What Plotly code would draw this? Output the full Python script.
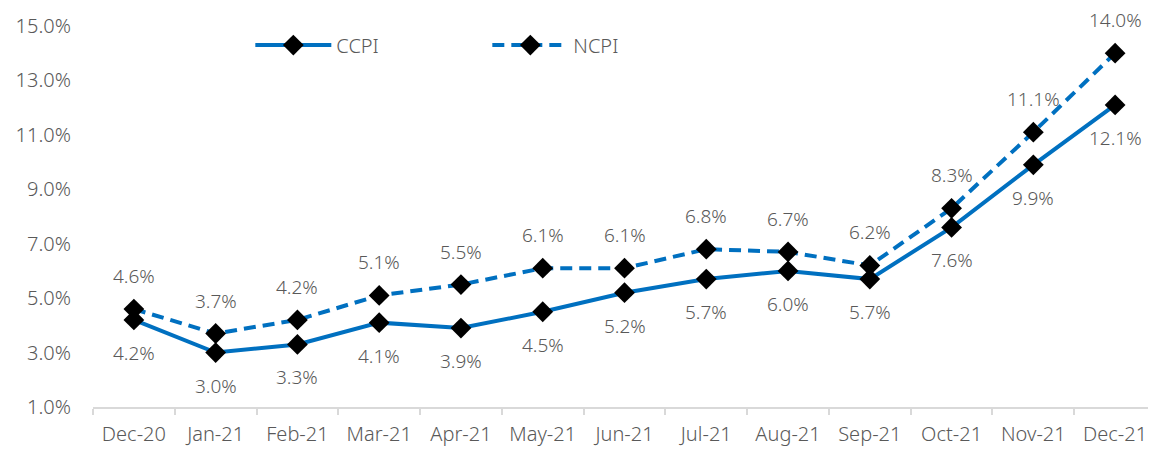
import plotly.graph_objects as go

months = ["Dec-20", "Jan-21", "Feb-21", "Mar-21", "Apr-21", "May-21", "Jun-21",
          "Jul-21", "Aug-21", "Sep-21", "Oct-21", "Nov-21", "Dec-21"]
ccpi = [4.2, 3.0, 3.3, 4.1, 3.9, 4.5, 5.2, 5.7, 6.0, 5.7, 7.6, 9.9, 12.1]
ncpi = [4.6, 3.7, 4.2, 5.1, 5.5, 6.1, 6.1, 6.8, 6.7, 6.2, 8.3, 11.1, 14.0]
y_ticks = [1, 3, 5, 7, 9, 11, 13, 15]

BLUE = "#0070C0"
GREY = "#595959"
FONT = "Noto Sans"
W = 300

fig = go.Figure()
fig.add_trace(go.Scatter(
    x=months, y=ccpi, name="CCPI", mode="lines+markers",
    line=dict(color=BLUE, width=4),
    marker=dict(symbol="diamond", size=16, color="black"),
))
fig.add_trace(go.Scatter(
    x=months, y=ncpi, name="NCPI", mode="lines+markers",
    line=dict(color=BLUE, width=4, dash="12px,7px"),
    marker=dict(symbol="diamond", size=16, color="black"),
))

for m, v in zip(months, ncpi):
    fig.add_annotation(x=m, y=v, text=f"{v:.1f}%", showarrow=False, yshift=33,
                       font=dict(family=FONT, size=19, color=GREY, weight=W))
for m, v in zip(months, ccpi):
    fig.add_annotation(x=m, y=v, text=f"{v:.1f}%", showarrow=False, yshift=-33,
                       font=dict(family=FONT, size=19, color=GREY, weight=W))

fig.update_layout(
    width=1148, height=441,
    margin=dict(l=85, r=0, t=18, b=42),
    plot_bgcolor="white", paper_bgcolor="white",
    font=dict(family=FONT, size=20, color=GREY, weight=W),
    showlegend=True,
    legend=dict(orientation="h", x=0.148, y=0.95, yanchor="middle", xanchor="left",
                itemwidth=76, entrywidth=146, entrywidthmode="pixels",
                font=dict(family=FONT, size=20, color=GREY, weight=W),
                bgcolor="rgba(0,0,0,0)", tracegroupgap=0),
    xaxis=dict(
        type="category", range=[-0.5, 12.5],
        showline=True, linecolor="#d9d9d9", linewidth=1.5,
        ticks="outside", tickson="boundaries", ticklen=6, tickcolor="#d9d9d9", tickwidth=1.5,
        showgrid=False, tickfont=dict(family=FONT, size=20, color=GREY, weight=W),
        ticklabelstandoff=8,
    ),
    yaxis=dict(
        range=[1, 15], tickvals=y_ticks,
        ticktext=[f"{t:.1f}%" for t in y_ticks],
        showgrid=False, zeroline=False, showline=False,
        tickfont=dict(family=FONT, size=20, color=GREY, weight=W), ticks="", ticklabelstandoff=21,
    ),
)

fig.write_html("out.html")
